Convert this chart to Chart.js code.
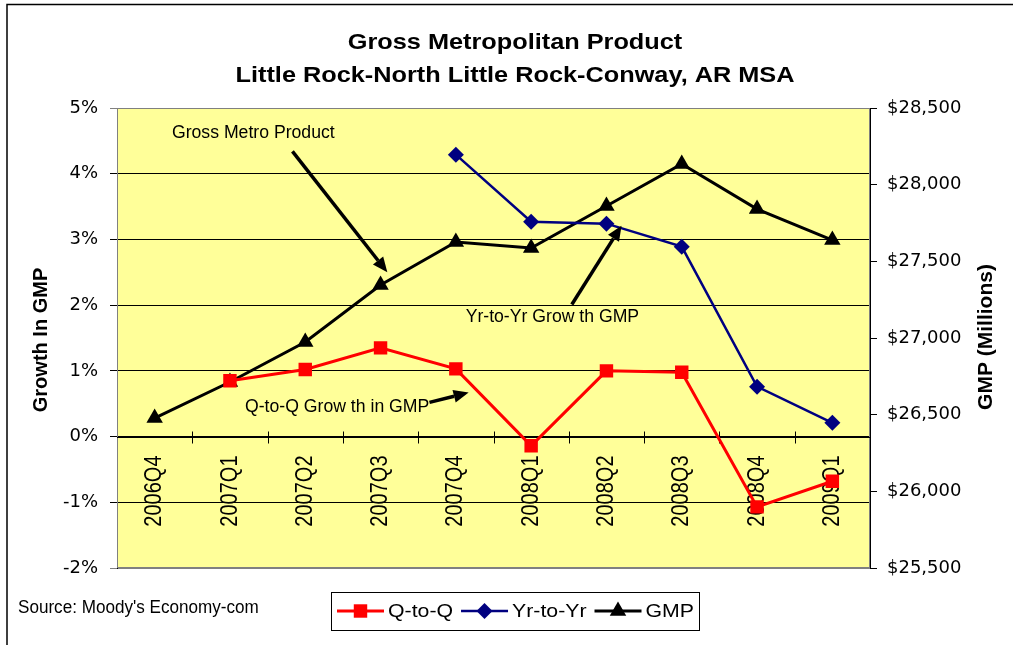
<!DOCTYPE html>
<html>
<head>
<meta charset="utf-8">
<title>Gross Metropolitan Product</title>
<script src="https://cdn.jsdelivr.net/npm/chart.js@4/dist/chart.umd.min.js"></script>
<style>
    html, body { margin: 0; padding: 0; background: #fff; }
    #wrap { width: 1013px; height: 645px; }
</style>
</head>
<body>
<div id="wrap"><canvas id="gmp-chart" width="1013" height="645"></canvas></div>
<script>
// Chart data
const quarters = ['2006Q4', '2007Q1', '2007Q2', '2007Q3', '2007Q4', '2008Q1', '2008Q2', '2008Q3', '2008Q4', '2009Q1'];
const qToQ = [null, 0.85, 1.02, 1.35, 1.03, -0.14, 1.00, 0.98, -1.07, -0.68];
const yrToYr = [null, null, null, null, 4.29, 3.27, 3.24, 2.89, 0.76, 0.21];
const gmp = [26478, 26713, 26974, 27346, 27626, 27587, 27861, 28135, 27841, 27639];

const growthTicks = { min: -2, max: 5, step: 1 };
const gmpTicks = { min: 25500, max: 28500, step: 500 };

const titleLines = ['Gross Metropolitan Product', 'Little Rock-North Little Rock-Conway, AR MSA'];
const sourceNote = "Source: Moody's Economy-com";

// Callouts, placed in data units (category index, growth %)
const callouts = [
    { text: 'Gross Metro Product', at: [0.23, 4.55], from: [1.83, 4.34], to: [3.09, 2.50] },
    { text: 'Yr-to-Yr Grow th GMP', at: [4.13, 1.74], from: [5.54, 2.01], to: [6.20, 3.21] },
    { text: 'Q-to-Q Grow th in GMP', at: [1.20, 0.38], from: [3.65, 0.52], to: [4.17, 0.67] }
];

const SANS = '"Liberation Sans", Arial, sans-serif';
const TICK_FONT = { family: '"DejaVu Sans", sans-serif', size: 18 };

// text with a horizontal stretch in screen space (the source image is widened)
function stretchText(ctx, text, x, y, opts) {
    ctx.save();
    ctx.translate(x, y);
    ctx.scale(opts.sx || 1, 1);
    if (opts.rot) ctx.rotate(opts.rot);
    ctx.font = opts.font;
    ctx.fillStyle = opts.color || '#000';
    ctx.textAlign = opts.align || 'left';
    ctx.textBaseline = opts.baseline || 'alphabetic';
    ctx.fillText(text, 0, 0);
    ctx.restore();
}

function drawMarker(ctx, style, x, y, r, color) {
    ctx.save();
    ctx.fillStyle = color;
    ctx.beginPath();
    if (style === 'rect') {
        const s = Math.SQRT1_2 * r;
        ctx.rect(x - s, y - s, 2 * s, 2 * s);
    } else if (style === 'rectRot') {
        ctx.moveTo(x, y - r); ctx.lineTo(x + r, y); ctx.lineTo(x, y + r); ctx.lineTo(x - r, y);
    } else {
        const h = r * Math.sqrt(3) / 2;
        ctx.moveTo(x, y - r); ctx.lineTo(x + h, y + r / 2); ctx.lineTo(x - h, y + r / 2);
    }
    ctx.closePath();
    ctx.fill();
    ctx.restore();
}

function drawArrow(ctx, x1, y1, x2, y2) {
    const ang = Math.atan2(y2 - y1, x2 - x1);
    const len = 15, half = 6.5;
    const bx = x2 - Math.cos(ang) * len, by = y2 - Math.sin(ang) * len;
    ctx.save();
    ctx.strokeStyle = '#000';
    ctx.fillStyle = '#000';
    ctx.lineWidth = 3.5;
    ctx.beginPath();
    ctx.moveTo(x1, y1);
    ctx.lineTo(bx, by);
    ctx.stroke();
    ctx.beginPath();
    ctx.moveTo(x2, y2);
    ctx.lineTo(bx + Math.sin(ang) * half, by - Math.cos(ang) * half);
    ctx.lineTo(bx - Math.sin(ang) * half, by + Math.cos(ang) * half);
    ctx.closePath();
    ctx.fill();
    ctx.restore();
}

const excelLook = {
    id: 'excelLook',
    beforeDraw(chart) {
        const { ctx, chartArea: a } = chart;
        ctx.save();
        ctx.fillStyle = '#fff';
        ctx.fillRect(0, 0, chart.width, chart.height);
        ctx.fillStyle = '#FFFF99';
        ctx.fillRect(a.left, a.top, a.right - a.left, a.bottom - a.top);
        ctx.restore();
    },
    beforeDatasetsDraw(chart) {
        const { ctx, chartArea: a, scales } = chart;
        const x = scales.x, y = scales.y;
        const y0 = Math.round(y.getPixelForValue(0)) + 0.5;

        ctx.save();
        ctx.strokeStyle = '#808080';
        ctx.lineWidth = 1;
        ctx.strokeRect(a.left + 0.5, a.top + 0.5, a.right - a.left - 1, a.bottom - a.top - 1);

        // category axis crossing at 0%
        ctx.strokeStyle = '#000';
        ctx.beginPath();
        ctx.moveTo(a.left, y0);
        ctx.lineTo(a.right, y0);
        for (let i = 1; i < quarters.length; i++) {
            const bx = Math.round((x.getPixelForValue(i - 1) + x.getPixelForValue(i)) / 2) + 0.5;
            ctx.moveTo(bx, y0 - 6);
            ctx.lineTo(bx, y0 + 6);
        }
        ctx.stroke();
        ctx.restore();

        quarters.forEach((q, i) => {
            stretchText(ctx, q, x.getPixelForValue(i), y0 + 18, {
                font: '20px ' + SANS, sx: 1.2, rot: -Math.PI / 2, align: 'right', baseline: 'middle'
            });
        });
    },
    afterDatasetsDraw(chart) {
        const { ctx, scales } = chart;
        const px = p => [scales.x.getPixelForValue(p[0]), scales.y.getPixelForValue(p[1])];
        callouts.forEach(c => {
            const [tx, ty] = px(c.at);
            stretchText(ctx, c.text, tx, ty, { font: '18px ' + SANS, sx: 0.98 });
            const [x1, y1] = px(c.from);
            const [x2, y2] = px(c.to);
            drawArrow(ctx, x1, y1, x2, y2);
        });
    },
    afterDraw(chart) {
        const { ctx, chartArea: a } = chart;
        const midY = (a.top + a.bottom) / 2;

        stretchText(ctx, titleLines[0], 515, 49, { font: 'bold 22px ' + SANS, sx: 1.15, align: 'center' });
        stretchText(ctx, titleLines[1], 515, 82, { font: 'bold 22px ' + SANS, sx: 1.15, align: 'center' });

        stretchText(ctx, 'Growth In GMP', 41, midY + 2, {
            font: 'bold 20px ' + SANS, sx: 1.05, rot: -Math.PI / 2, align: 'center', baseline: 'middle'
        });
        stretchText(ctx, 'GMP (Millions)', 986, midY - 1, {
            font: 'bold 21px ' + SANS, sx: 1.0, rot: -Math.PI / 2, align: 'center', baseline: 'middle'
        });

        stretchText(ctx, sourceNote, 18, 613, { font: '18px ' + SANS, sx: 0.95 });

        // legend: line sample with marker, boxed
        ctx.save();
        ctx.strokeStyle = '#000';
        ctx.lineWidth = 1;
        ctx.strokeRect(331.5, 592.5, 368, 38);
        ctx.restore();

        let lx = 337;
        const ly = 611;
        chart.data.datasets.forEach(ds => {
            ctx.save();
            ctx.strokeStyle = ds.borderColor;
            ctx.lineWidth = ds.borderWidth;
            ctx.beginPath();
            ctx.moveTo(lx, ly);
            ctx.lineTo(lx + 47, ly);
            ctx.stroke();
            ctx.restore();
            drawMarker(ctx, ds.pointStyle, lx + 23.5, ly, ds.pointRadius, ds.pointBackgroundColor);
            ctx.save();
            ctx.font = '19px ' + SANS;
            const w = ctx.measureText(ds.label).width * 1.12;
            ctx.restore();
            stretchText(ctx, ds.label, lx + 51, ly + 1, { font: '19px ' + SANS, sx: 1.12, baseline: 'middle' });
            lx += 51 + w + 8;
        });

        // outer frame
        ctx.save();
        ctx.strokeStyle = '#000';
        ctx.lineWidth = 1.5;
        ctx.beginPath();
        ctx.moveTo(7, chart.height);
        ctx.lineTo(7, 4.5);
        ctx.lineTo(chart.width, 4.5);
        ctx.stroke();
        ctx.restore();
    }
};

const gmpChart = new Chart(document.getElementById('gmp-chart'), {
    type: 'line',
    data: {
        labels: quarters,
        datasets: [
            {
                label: 'Q-to-Q',
                data: qToQ,
                yAxisID: 'y',
                borderColor: '#FF0000',
                backgroundColor: '#FF0000',
                pointBackgroundColor: '#FF0000',
                pointBorderColor: '#FF0000',
                borderWidth: 3,
                pointStyle: 'rect',
                pointRadius: 9.5,
                pointBorderWidth: 0
            },
            {
                label: 'Yr-to-Yr',
                data: yrToYr,
                yAxisID: 'y',
                borderColor: '#000080',
                backgroundColor: '#000080',
                pointBackgroundColor: '#000080',
                pointBorderColor: '#000080',
                borderWidth: 2.5,
                pointStyle: 'rectRot',
                pointRadius: 8,
                pointBorderWidth: 0
            },
            {
                label: 'GMP',
                data: gmp,
                yAxisID: 'y1',
                borderColor: '#000000',
                backgroundColor: '#000000',
                pointBackgroundColor: '#000000',
                pointBorderColor: '#000000',
                borderWidth: 3,
                pointStyle: 'triangle',
                pointRadius: 9.5,
                pointBorderWidth: 0
            }
        ]
    },
    options: {
        responsive: false,
        devicePixelRatio: 1,
        animation: false,
        spanGaps: false,
        layout: { padding: { top: 108, bottom: 77, left: 0, right: 0 } },
        plugins: {
            legend: { display: false },
            title: { display: false },
            tooltip: { enabled: false }
        },
        elements: { line: { tension: 0 } },
        scales: {
            x: {
                type: 'category',
                offset: true,
                display: false
            },
            y: {
                position: 'left',
                min: growthTicks.min,
                max: growthTicks.max,
                afterFit(scale) { scale.width = 117; },
                ticks: {
                    stepSize: growthTicks.step,
                    padding: 12,
                    color: '#000',
                    font: TICK_FONT,
                    callback: v => v + '%'
                },
                grid: {
                    color: c => (c.tick && (c.tick.value === growthTicks.max || c.tick.value === growthTicks.min)) ? '#808080' : '#000',
                    tickLength: 7,
                    lineWidth: 1
                },
                border: { color: '#000' }
            },
            y1: {
                position: 'right',
                min: gmpTicks.min,
                max: gmpTicks.max,
                afterFit(scale) { scale.width = 143; },
                ticks: {
                    stepSize: gmpTicks.step,
                    padding: 10,
                    color: '#000',
                    font: TICK_FONT,
                    callback: v => '$' + Number(v).toLocaleString('en-US')
                },
                grid: {
                    drawOnChartArea: false,
                    color: '#000',
                    tickLength: 7
                },
                border: { color: '#000' }
            }
        }
    },
    plugins: [excelLook]
});
</script>
</body>
</html>
